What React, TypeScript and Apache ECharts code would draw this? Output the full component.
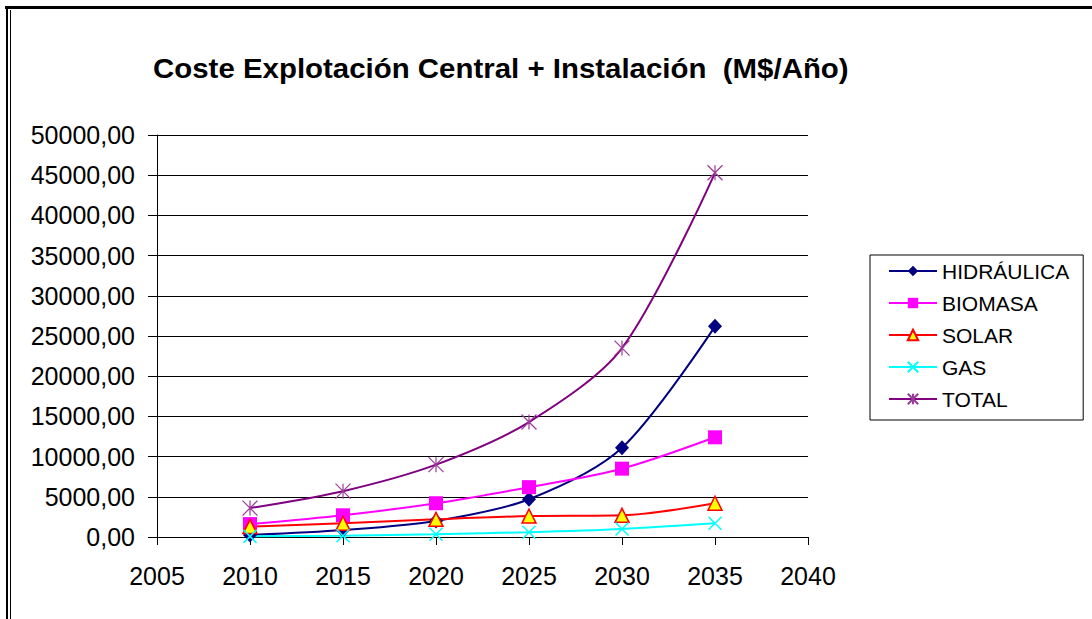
import React, { useEffect, useRef } from "react";
import * as echarts from "echarts";

const years = [2010, 2015, 2020, 2025, 2030, 2035];
const hidraulica = [250, 870, 2000, 4700, 11100, 26200];
const biomasa = [1600, 2700, 4200, 6200, 8500, 12400];
const solar = [1300, 1700, 2200, 2600, 2700, 4200];
const gas = [80, 150, 350, 600, 1000, 1700];
const total = [3600, 5700, 9000, 14300, 23500, 45300];

const titleText = "Coste Explotación Central + Instalación  (M$/Año)";
const FONT = "'Liberation Sans', Arial, sans-serif";

const pairs = (vals: number[]) => years.map((y, i) => [y, vals[i]]);

export default function App() {
  const ref = useRef<HTMLDivElement>(null);
  useEffect(() => {
    if (!ref.current) return;
    const chart = echarts.init(ref.current, undefined, { renderer: "svg" });
    const mk = (
      name: string,
      vals: number[],
      line: string,
      symbol: string,
      size: number | number[],
      itemStyle: any
    ) => ({
      name,
      type: "line",
      data: pairs(vals),
      smooth: 0.3,
      symbol,
      symbolSize: size,
      showSymbol: true,
      lineStyle: { color: line, width: 2 },
      itemStyle,
      emphasis: { disabled: true },
    });
    chart.setOption({
      animation: false,
      backgroundColor: "#fff",
      legend: {
        orient: "vertical",
        left: 870,
        top: 255,
        padding: [5, 14, 10, 18],
        borderColor: "#000",
        borderWidth: 1,
        itemWidth: 48,
        itemHeight: 13,
        itemGap: 10,
        textStyle: { fontFamily: FONT, fontSize: 21, lineHeight: 22, color: "#000" },
        data: ["HIDRÁULICA", "BIOMASA", "SOLAR", "GAS", "TOTAL"],
      },
      grid: { left: 157, right: 284, top: 135, bottom: 82, containLabel: false },
      xAxis: {
        type: "value",
        min: 2005,
        max: 2040,
        interval: 5,
        axisLine: { show: true, lineStyle: { color: "#000", width: 1 } },
        axisTick: { show: true, length: 8, lineStyle: { color: "#000" } },
        splitLine: { show: false },
        axisLabel: {
          fontFamily: FONT,
          fontSize: 25,
          color: "#000",
          margin: 26,
          formatter: (v: number) => String(v),
        },
      },
      yAxis: {
        type: "value",
        min: 0,
        max: 50000,
        interval: 5000,
        axisLine: { show: true, lineStyle: { color: "#000", width: 1 } },
        axisTick: { show: true, length: 9, lineStyle: { color: "#000" } },
        splitLine: { show: true, lineStyle: { color: "#000", width: 1 } },
        axisLabel: {
          fontFamily: FONT,
          fontSize: 25,
          color: "#000",
          margin: 22,
          formatter: (v: number) => v.toFixed(2).replace(".", ","),
        },
      },
      series: [
        mk("HIDRÁULICA", hidraulica, "#000080", "diamond", [14, 15], { color: "#000080" }),
        mk("BIOMASA", biomasa, "#FF00FF", "rect", 14, { color: "#FF00FF" }),
        mk("SOLAR", solar, "#FF0000", "triangle", 14, {
          color: "#FFFF00",
          borderColor: "#FF0000",
          borderWidth: 1.5,
        }),
        mk("GAS", gas, "#00FFFF", "path://M0,0L10,10M10,0L0,10", 13, {
          color: "#00FFFF",
          borderColor: "#00FFFF",
          borderWidth: 1.5,
        }),
        mk("TOTAL", total, "#800080", "path://M0,0L10,10M10,0L0,10M5,0L5,10", 15, {
          color: "#800080",
          borderColor: "#9a3a9a",
          borderWidth: 1.2,
        }),
      ],
      graphic: [
        {
          type: "text",
          x: 153,
          y: 68,
          scaleX: 1.09,
          style: {
            text: titleText,
            font: "bold 27px " + FONT,
            fill: "#000",
            textAlign: "left",
            textVerticalAlign: "middle",
          },
        },
        { type: "rect", shape: { x: 5, y: 6, width: 1092, height: 3 }, style: { fill: "#000" } },
        { type: "rect", shape: { x: 6, y: 6, width: 2, height: 619 }, style: { fill: "#000" } },
        { type: "rect", shape: { x: 10, y: 10, width: 1, height: 619 }, style: { fill: "#000" } },
      ],
    });
    return () => chart.dispose();
  }, []);
  return (
    <div
      ref={ref}
      style={{ position: "absolute", left: 0, top: 0, width: 1092, height: 619 }}
    />
  );
}
